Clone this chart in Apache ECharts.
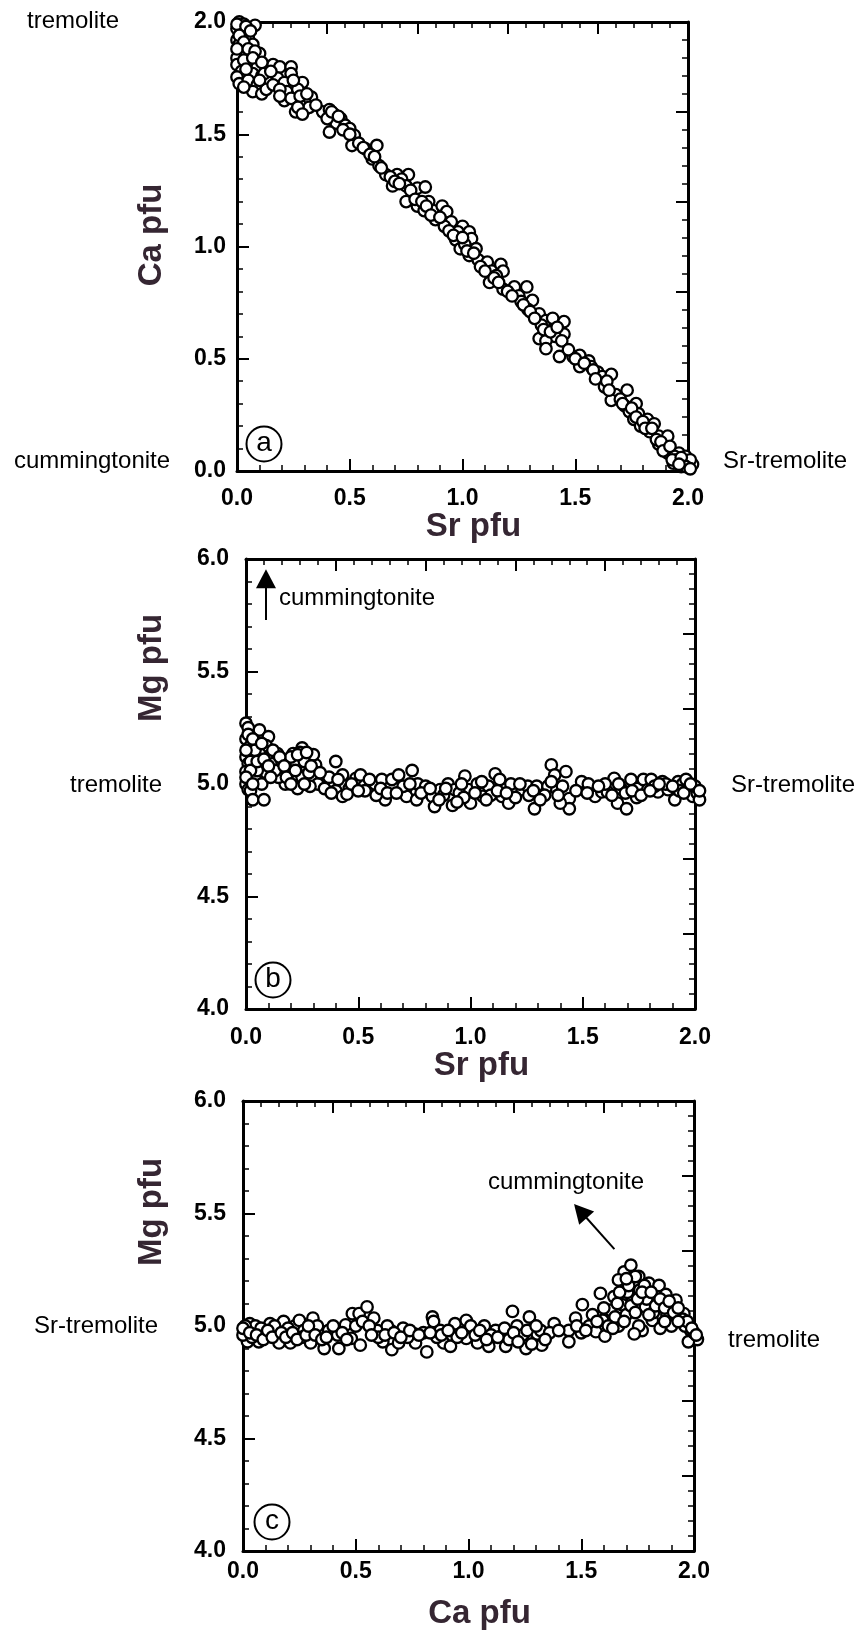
<!DOCTYPE html>
<html>
<head>
<meta charset="utf-8">
<script src="https://cdn.jsdelivr.net/npm/echarts@6/dist/echarts.min.js"></script>
<style>
  html, body { margin: 0; padding: 0; background: #fff; }
  #main { width: 858px; height: 1633px; }
</style>
</head>
<body>
<div id="main"></div>
<script>
// panel (a): Sr pfu vs Ca pfu
var panelA = [
  [0.01,2.00],[0.03,1.99],[0.08,1.985],[0.00,1.97],[0.02,1.96],[0.03,1.94],[0.00,1.92],[0.05,1.93],
  [0.01,1.90],[0.07,1.90],[0.02,1.87],[0.10,1.86],[0.04,1.85],[0.00,1.84],[0.06,1.83],[0.00,1.81],
  [0.05,1.81],[0.09,1.80],[0.13,1.79],[0.02,1.78],[0.07,1.77],[0.00,1.755],[0.11,1.76],[0.16,1.81],
  [0.19,1.80],[0.24,1.80],[0.24,1.77],[0.14,1.73],[0.01,1.725],[0.05,1.74],[0.09,1.72],[0.18,1.75],
  [0.21,1.73],[0.07,1.69],[0.11,1.68],[0.13,1.70],[0.22,1.69],[0.29,1.73],[0.27,1.70],[0.33,1.665],
  [0.30,1.65],[0.21,1.65],[0.26,1.60],[0.30,1.61],[0.28,1.63],[0.32,1.62],[0.38,1.60],[0.41,1.61],
  [0.43,1.59],[0.46,1.57],[0.44,1.55],[0.48,1.54],[0.50,1.525],[0.41,1.51],[0.52,1.495],[0.51,1.45],
  [0.57,1.435],[0.62,1.45],[0.60,1.39],[0.63,1.36],[0.66,1.32],[0.71,1.32],[0.76,1.32],[0.73,1.30],
  [0.69,1.27],[0.75,1.27],[0.78,1.23],[0.80,1.26],[0.835,1.265],[0.75,1.20],[0.80,1.18],[0.85,1.20],
  [0.83,1.16],[0.87,1.16],[0.91,1.18],[0.93,1.155],[0.88,1.12],[0.95,1.11],[0.92,1.09],[1.00,1.09],
  [0.98,1.065],[1.03,1.065],[0.97,1.03],[1.04,1.035],[0.99,0.99],[1.06,0.99],[1.01,1.01],[1.03,0.96],
  [1.07,0.94],[1.11,0.93],[1.13,0.89],[1.17,0.92],[1.18,0.89],[1.12,0.84],[1.15,0.87],[1.18,0.81],
  [1.23,0.82],[1.285,0.82],[1.25,0.78],[1.26,0.755],[1.31,0.76],[1.29,0.72],[1.34,0.70],[1.37,0.67],
  [1.40,0.68],[1.45,0.665],[1.35,0.65],[1.45,0.61],[1.41,0.60],[1.34,0.59],[1.37,0.58],[1.37,0.545],
  [1.43,0.51],[1.49,0.51],[1.52,0.515],[1.56,0.49],[1.52,0.465],[1.57,0.465],[1.60,0.44],[1.62,0.42],
  [1.66,0.43],[1.63,0.375],[1.68,0.34],[1.73,0.36],[1.66,0.315],[1.72,0.29],[1.74,0.265],[1.77,0.30],
  [1.78,0.255],[1.76,0.23],[1.79,0.20],[1.82,0.23],[1.85,0.21],[1.83,0.175],[1.87,0.155],[1.91,0.155],
  [1.87,0.12],[1.90,0.10],[1.91,0.08],[1.96,0.08],[1.94,0.065],[1.96,0.05],[1.99,0.065],[1.935,0.035],
  [1.98,0.027],[2.00,0.035],[2.02,0.03],[1.97,0.02],[2.01,0.05],[1.95,0.05],
  [0.00,1.99],[0.04,1.98],[0.06,1.96],[0.01,1.94],[0.03,1.91],[0.00,1.88],[0.05,1.88],[0.08,1.87],
  [0.03,1.83],[0.07,1.84],[0.11,1.82],[0.04,1.79],[0.12,1.77],[0.15,1.78],[0.10,1.74],[0.03,1.71],
  [0.16,1.72],[0.19,1.70],[0.25,1.74],[0.24,1.66],[0.19,1.67],[0.28,1.67],[0.31,1.68],[0.27,1.62],
  [0.29,1.59],[0.35,1.63],[0.40,1.57],[0.42,1.60],[0.45,1.58],[0.47,1.52],[0.50,1.50],[0.54,1.46],
  [0.56,1.44],[0.59,1.41],[0.61,1.40],[0.64,1.35],[0.68,1.31],[0.70,1.29],[0.72,1.28],[0.77,1.25],
  [0.79,1.21],[0.82,1.20],[0.84,1.18],[0.86,1.14],[0.90,1.13],[0.94,1.07],[0.96,1.05],[1.00,1.04],
  [1.02,0.98],[1.05,0.97],[1.08,0.91],[1.10,0.89],[1.14,0.86],[1.16,0.84],[1.20,0.80],[1.22,0.78],
  [1.27,0.74],[1.30,0.71],[1.32,0.68],[1.36,0.63],[1.39,0.62],[1.42,0.64],[1.44,0.58],[1.47,0.54],
  [1.50,0.50],[1.54,0.48],[1.58,0.45],[1.59,0.41],[1.64,0.40],[1.65,0.36],[1.70,0.32],[1.71,0.30],
  [1.75,0.28],[1.77,0.24],[1.80,0.22],[1.81,0.19],[1.84,0.19],[1.86,0.14],[1.88,0.13],[1.89,0.09],
  [1.92,0.11],[1.93,0.05],[1.97,0.06],[1.99,0.02],[2.01,0.01],[1.96,0.03]
];

// panel (b): Sr pfu vs Mg pfu
var panelB = [
  [0.00,5.27],[0.01,5.25],[0.00,5.20],[0.02,5.17],[0.00,5.12],[0.01,5.09],[0.00,5.055],[0.02,5.03],
  [0.00,5.00],[0.01,4.975],[0.02,5.10],[0.02,4.97],[0.03,4.93],[0.08,4.93],[0.06,5.24],[0.10,5.21],
  [0.09,5.17],[0.115,5.135],[0.12,5.09],[0.09,5.05],[0.04,5.03],[0.06,5.135],[0.14,5.135],[0.175,5.00],
  [0.145,5.03],[0.22,5.10],[0.21,5.135],[0.25,5.16],[0.285,5.12],[0.31,5.085],[0.27,5.075],[0.25,5.03],
  [0.23,4.98],[0.32,5.00],[0.285,4.99],[0.05,5.06],[0.07,5.00],[0.04,5.15],[0.13,5.06],[0.16,5.10],
  [0.19,5.05],[0.20,5.12],[0.26,5.10],[0.24,5.14],[0.28,5.05],[0.30,5.13],[0.37,5.03],[0.40,5.10],
  [0.40,4.97],[0.43,5.04],[0.43,4.945],[0.46,4.98],[0.45,4.955],[0.49,5.025],[0.51,5.04],[0.575,5.00],
  [0.605,5.02],[0.62,4.93],[0.65,5.02],[0.68,5.04],[0.71,4.975],[0.74,5.06],[0.715,4.945],[0.765,5.00],
  [0.76,4.93],[0.80,4.99],[0.83,4.945],[0.84,4.90],[0.865,4.975],[0.90,5.00],[0.92,4.905],[0.93,4.975],
  [0.975,5.035],[0.99,4.975],[1.00,4.915],[1.03,5.00],[1.055,4.945],[1.08,4.99],[1.11,5.045],[1.13,5.02],
  [1.14,4.945],[1.17,4.915],[1.18,5.00],[1.23,4.975],[1.255,4.99],[1.285,4.89],[1.295,4.99],[1.345,4.99],
  [1.36,5.085],[1.375,5.04],[1.385,4.975],[1.41,4.99],[1.425,5.055],[1.44,4.935],[1.44,4.89],[1.40,4.915],
  [1.495,5.01],[1.525,5.00],[1.555,4.945],[1.585,4.965],[1.61,4.965],[1.64,5.025],[1.655,4.915],[1.67,4.98],
  [1.695,4.89],[1.715,5.02],[1.745,4.98],[1.77,5.02],[1.79,4.975],[1.805,5.02],[1.835,4.965],[1.855,5.01],
  [1.88,4.975],[1.91,4.93],[1.925,5.01],[1.945,5.00],[1.97,4.975],[1.99,4.945],[2.01,4.96],[2.02,4.93],
  [0.88,4.95],[0.95,4.96],[1.05,5.01],[0.70,4.99],[0.58,4.95],[0.53,4.97],[1.26,4.95],[1.20,4.94],
  [1.33,4.95],[1.60,5.00],[1.74,4.94],[1.87,5.00],[1.96,5.02],[2.00,4.99],[1.93,4.97],[1.82,4.99],
  [0.97,4.94],[1.09,4.95],
  [0.00,5.15],[0.01,5.22],[0.03,5.20],[0.02,5.06],[0.00,5.03],[0.03,5.00],[0.05,5.10],[0.07,5.18],
  [0.08,5.11],[0.10,5.08],[0.11,5.03],[0.12,5.15],[0.15,5.12],[0.17,5.08],[0.18,5.03],[0.20,5.00],
  [0.22,5.06],[0.23,5.13],[0.27,5.14],[0.29,5.08],[0.26,5.00],[0.33,5.05],[0.35,4.98],[0.38,4.96],
  [0.41,5.02],[0.47,5.00],[0.50,4.97],[0.55,5.02],[0.60,4.98],[0.63,4.96],[0.67,4.96],[0.73,5.00],
  [0.78,4.96],[0.82,4.98],[0.86,4.93],[0.89,4.98],[0.94,4.92],[0.96,5.00],[1.02,4.96],[1.07,4.93],
  [1.12,4.97],[1.16,4.96],[1.22,5.00],[1.28,4.97],[1.31,4.93],[1.36,5.01],[1.39,4.95],[1.47,4.97],
  [1.52,4.96],[1.57,4.99],[1.63,4.95],[1.66,5.00],[1.69,4.96],[1.72,4.97],[1.76,4.95],[1.80,4.97],
  [1.84,5.00],[1.90,4.99],[1.95,4.96],[1.98,5.00],[2.02,4.97]
];

// panel (c): Ca pfu vs Mg pfu
var panelC = [
  [0.02,4.98],[0.05,4.975],[0.03,5.01],[0.02,4.93],[0.07,4.93],[0.055,5.00],[0.00,4.96],[0.01,5.00],
  [0.04,4.95],[0.12,5.01],[0.15,4.965],[0.16,4.925],[0.18,5.02],[0.21,4.925],[0.23,5.00],[0.25,5.025],
  [0.27,4.98],[0.30,4.925],[0.31,5.035],[0.34,4.98],[0.36,4.90],[0.38,4.98],[0.42,4.96],[0.425,4.90],
  [0.455,5.005],[0.48,4.945],[0.485,5.055],[0.515,5.055],[0.52,4.915],[0.55,5.085],[0.58,5.035],[0.595,4.98],
  [0.62,4.93],[0.655,4.98],[0.66,4.895],[0.69,4.925],[0.71,4.99],[0.76,4.965],[0.765,4.925],[0.815,4.885],
  [0.84,5.04],[0.845,5.02],[0.875,4.98],[0.89,4.925],[0.92,4.91],[0.94,5.01],[0.99,4.945],[0.99,5.025],
  [1.04,4.925],[1.07,5.00],[1.09,4.91],[1.12,4.98],[1.155,4.965],[1.165,4.91],[1.195,5.065],[1.215,5.00],
  [1.255,4.90],[1.27,5.04],[1.305,4.965],[1.32,4.98],[1.325,4.915],[1.38,5.01],[1.445,4.98],[1.445,4.93],
  [1.475,5.035],[1.505,5.095],[1.535,5.00],[1.565,4.975],[1.585,5.145],[1.595,5.025],[1.605,4.955],[1.63,5.07],
  [1.645,5.13],[1.665,5.00],[1.68,5.095],[1.69,5.24],[1.72,5.27],[1.725,5.13],[1.665,5.205],[1.755,5.22],
  [1.77,4.98],[1.785,5.085],[1.80,5.19],[1.815,5.025],[1.83,5.14],[1.845,5.18],[1.86,5.10],[1.875,5.14],
  [1.895,5.08],[1.92,5.115],[1.94,5.025],[1.955,5.055],[1.985,4.98],[2.015,4.94],[1.975,4.93],[1.755,5.00],
  [1.735,4.965],[1.65,5.04],[1.705,5.15],[1.76,5.16],[0.08,4.99],[0.10,4.96],[0.20,4.99],[0.14,5.00],
  [0.26,4.95],[0.33,5.00],[0.40,5.00],[0.60,4.95],[0.64,5.00],[0.73,4.95],[0.80,4.97],[0.86,4.95],
  [0.95,4.95],[1.01,5.00],[1.10,4.96],[1.18,4.94],[1.24,4.96],[1.28,4.92],[1.36,4.97],[1.50,4.97],
  [1.55,5.05],[1.62,5.00],[1.70,5.05],[1.79,5.12],[1.82,5.06],[1.88,5.05],[1.90,5.00],[1.96,5.00],
  [2.00,4.97],[1.85,4.99],[1.72,5.09],[1.67,5.15],[1.78,5.18],
  [0.00,4.99],[0.03,4.97],[0.06,4.96],[0.09,4.94],[0.11,4.98],[0.13,4.95],[0.17,4.97],[0.19,4.95],
  [0.22,4.97],[0.24,4.94],[0.28,4.96],[0.29,5.00],[0.32,4.96],[0.35,4.94],[0.37,4.95],[0.44,4.97],
  [0.46,4.94],[0.50,5.00],[0.53,5.02],[0.56,5.00],[0.57,4.96],[0.63,4.96],[0.67,4.97],[0.70,4.95],
  [0.74,4.98],[0.78,4.96],[0.83,4.97],[0.88,4.96],[0.91,4.98],[0.97,4.97],[1.03,4.96],[1.05,4.98],
  [1.08,4.94],[1.13,4.95],[1.16,4.99],[1.20,4.97],[1.22,4.93],[1.26,4.98],[1.30,5.00],[1.34,4.94],
  [1.40,4.98],[1.48,5.00],[1.52,4.98],[1.57,5.02],[1.60,5.08],[1.64,4.99],[1.66,5.10],[1.69,5.02],
  [1.71,5.18],[1.74,5.06],[1.75,5.12],[1.77,5.15],[1.80,5.05],[1.81,5.15],[1.83,5.09],[1.85,5.12],
  [1.87,5.08],[1.89,5.11],[1.91,5.06],[1.93,5.08],[1.95,5.03],[1.97,5.02],[1.99,4.99],[2.01,4.96],
  [1.93,5.02],[1.87,5.02],[1.74,5.22],[1.70,5.21]
];

// arrows toward cummingtonite: [tail, head centre] in data units, head rotation in degrees
var arrowB = [[0.089, 5.729], [0.089, 5.912]];
var arrowC = [[1.647, 5.342], [1.496, 5.511]];
var headRotB = 0;
var headRotC = 41.6;

var FONT = "'Liberation Sans', Arial, Helvetica, sans-serif";
var TITLE_COLOR = '#352632';

var grids = [
  { left: 237, top: 22, width: 451, height: 449 },
  { left: 246, top: 559, width: 449, height: 450 },
  { left: 243, top: 1101, width: 451, height: 450 }
];

function fmt(v) { return v.toFixed(1); }

function mainAxis(grid, pos, min, max, labelMargin, name, nameGap) {
  return {
    type: 'value', gridIndex: grid, position: pos,
    min: min, max: max, interval: 0.5,
    axisLine: { show: true, onZero: false, lineStyle: { color: '#000', width: 3 } },
    axisTick: { show: true, inside: true, length: 12, lineStyle: { color: '#000', width: 2 } },
    minorTick: { show: true, splitNumber: 5, length: 6, lineStyle: { color: '#000', width: 1.5 } },
    splitLine: { show: false },
    axisLabel: {
      show: true, margin: labelMargin, formatter: fmt, color: '#000',
      fontSize: 23, fontWeight: 'bold', fontFamily: FONT,
      showMinLabel: true, showMaxLabel: true
    },
    name: name || '', nameLocation: 'middle', nameGap: nameGap || 0,
    nameTextStyle: { fontSize: 33, fontWeight: 'bold', fontFamily: FONT, color: TITLE_COLOR, padding: [0, 0, 0, 22] }
  };
}

// the top and right frames carry their own plain tick scale, no labels
function frameAxis(grid, pos, max) {
  return {
    type: 'value', gridIndex: grid, position: pos,
    min: 0, max: max, interval: 1,
    axisLine: { show: true, onZero: false, lineStyle: { color: '#000', width: 3 } },
    axisTick: { show: true, inside: true, length: 12, lineStyle: { color: '#000', width: 2 } },
    minorTick: { show: true, splitNumber: 5, length: 6, lineStyle: { color: '#000', width: 1.5 } },
    splitLine: { show: false },
    axisLabel: { show: false }
  };
}

function scatter(idx, data, arrow) {
  var s = {
    type: 'scatter', xAxisIndex: idx, yAxisIndex: idx, data: data,
    symbol: 'circle', symbolSize: 11.5, clip: false, z: 3,
    itemStyle: { color: '#fff', borderColor: '#000', borderWidth: 2.3, opacity: 1 },
    emphasis: { disabled: true }
  };
  if (arrow) {
    s.markLine = {
      silent: true, symbol: ['none', 'none'],
      label: { show: false },
      lineStyle: { color: '#000', width: 2, type: 'solid', opacity: 1 },
      data: [[{ coord: arrow[0] }, { coord: arrow[1] }]]
    };
  }
  return s;
}

function arrowHead(idx, arrow, rot) {
  return {
    type: 'scatter', xAxisIndex: idx, yAxisIndex: idx, data: [arrow[1]],
    symbol: 'triangle', symbolSize: [20, 19], symbolRotate: rot, clip: false, z: 4,
    itemStyle: { color: '#000', borderWidth: 0, opacity: 1 },
    emphasis: { disabled: true },
    silent: true
  };
}

function txt(x, y, str, size, align) {
  return {
    type: 'text', x: x, y: y, z: 10,
    style: { text: str, font: (size || 24) + 'px ' + FONT, fill: '#000',
             textAlign: align || 'left', textVerticalAlign: 'middle' }
  };
}

function yTitle(x, y, str) {
  return {
    type: 'text', x: x, y: y, rotation: Math.PI / 2, z: 10,
    style: { text: str, font: 'bold 33px ' + FONT, fill: TITLE_COLOR,
             textAlign: 'center', textVerticalAlign: 'middle' }
  };
}

function badge(cx, cy, letter) {
  return [
    { type: 'circle', z: 10, shape: { cx: cx, cy: cy, r: 17.5 },
      style: { fill: '#fff', stroke: '#000', lineWidth: 2 } },
    txt(cx, cy - 1, letter, 28, 'center')
  ];
}

var chart = echarts.init(document.getElementById('main'));

chart.setOption({
  animation: false,
  backgroundColor: '#fff',
  grid: grids.map(function (g) { return Object.assign({ containLabel: false }, g); }),
  xAxis: [
    mainAxis(0, 'bottom', 0, 2, 16, 'Sr pfu', 34),
    frameAxis(0, 'top', 5),
    mainAxis(1, 'bottom', 0, 2, 17, 'Sr pfu', 38),
    frameAxis(1, 'top', 5),
    mainAxis(2, 'bottom', 0, 2, 9, 'Ca pfu', 46),
    frameAxis(2, 'top', 5)
  ],
  yAxis: [
    mainAxis(0, 'left', 0, 2, 11),
    frameAxis(0, 'right', 5),
    mainAxis(1, 'left', 4, 6, 17),
    frameAxis(1, 'right', 6),
    mainAxis(2, 'left', 4, 6, 17),
    frameAxis(2, 'right', 6)
  ],
  series: [
    scatter(0, panelA),
    scatter(2, panelB, arrowB),
    scatter(4, panelC, arrowC),
    arrowHead(2, arrowB, headRotB),
    arrowHead(4, arrowC, headRotC)
  ],
  graphic: [].concat(
    [
      yTitle(152, 235, 'Ca pfu'),
      yTitle(152, 668, 'Mg pfu'),
      yTitle(152, 1212, 'Mg pfu'),
      txt(27, 21, 'tremolite'),
      txt(14, 461, 'cummingtonite'),
      txt(723, 461, 'Sr-tremolite'),
      txt(279, 598, 'cummingtonite'),
      txt(70, 785, 'tremolite'),
      txt(855, 785, 'Sr-tremolite', 24, 'right'),
      txt(488, 1182, 'cummingtonite'),
      txt(728, 1340, 'tremolite'),
      txt(34, 1326, 'Sr-tremolite')
    ],
    badge(264, 444, 'a'),
    badge(273, 980, 'b'),
    badge(272, 1522, 'c')
  )
});
</script>
</body>
</html>
